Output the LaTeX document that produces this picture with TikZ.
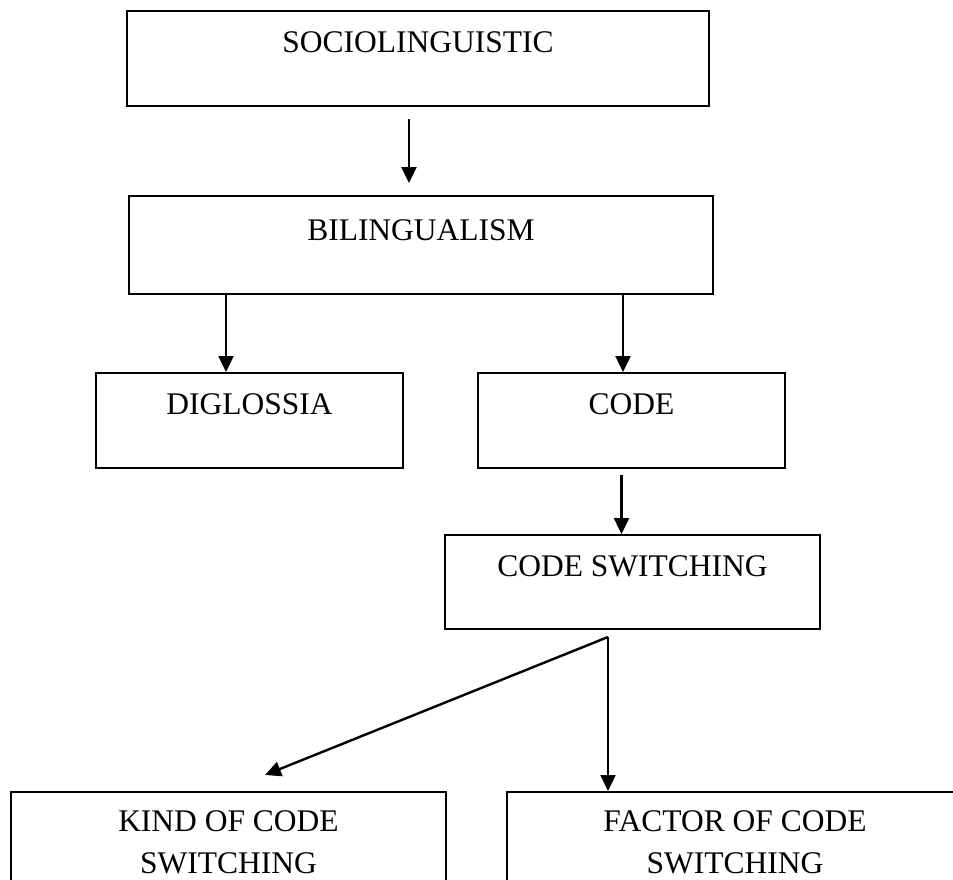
\documentclass[tikz,border=0pt]{standalone}
\usepackage{fontspec}
\setmainfont{Liberation Serif}
\usetikzlibrary{arrows.meta,positioning,calc}

\begin{document}
\begin{tikzpicture}[
  x=1pt,y=-1pt,
  >={Triangle[length=16pt,width=15pt]},
  box/.style={draw,line width=2pt,inner sep=0pt,anchor=north west},
  tag/.style={anchor=north,inner sep=0pt,align=center,
    font=\fontsize{31.5}{42}\selectfont},
  flow/.style={->,line width=2.4pt}
]
  \useasboundingbox (0,0) rectangle (953,880);
  \clip (0,0) rectangle (953,880);

  \node[box,minimum width=582,minimum height=95] (socio) at (126,10) {};
  \node[box,minimum width=584,minimum height=98] (biling) at (128,195) {};
  \node[box,minimum width=307,minimum height=95] (diglos) at (95,372) {};
  \node[box,minimum width=307,minimum height=95] (code) at (477,372) {};
  \node[box,minimum width=375,minimum height=94] (switch) at (444,534) {};
  \node[box,minimum width=435,minimum height=150] (kind) at (10,791) {};
  \node[box,minimum width=456,minimum height=150] (factor) at (506,791) {};

  \node[tag] (sociotxt) at ([yshift=-21pt]socio.north) {SOCIOLINGUISTIC};
  \node[tag] (bilingtxt) at ([yshift=-24pt]biling.north) {BILINGUALISM};
  \node[tag] (diglostxt) at ([yshift=-21pt]diglos.north) {DIGLOSSIA};
  \node[tag] (codetxt) at ([yshift=-21pt]code.north) {CODE};
  \node[tag] (switchtxt) at ([yshift=-21pt]switch.north) {CODE SWITCHING};
  \node[tag] (kindtxt) at ([yshift=-19pt]kind.north) {KIND OF CODE\\SWITCHING};
  \node[tag] (factortxt) at ([yshift=-19pt]factor.north) {FACTOR OF CODE\\SWITCHING};

  \coordinate (left) at ($(biling.south west)+(98,0)$);
  \coordinate (right) at ($(biling.south east)+(-91,0)$);
  \coordinate (split) at ($(switch.south)+(-24.5,7)$);
  \coordinate (kindtip) at ($(kind.north west)+(255,-16)$);

  \draw[flow] ($(socio.south)+(-9,12)$) -- ($(socio.south |- biling.north)+(-9,-12)$);
  \draw[flow] (left) -- (left |- diglos.north);
  \draw[flow] (right) -- (right |- code.north);
  \draw[flow] ($(code.south)+(-10,6)$) -- ($(code.south |- switch.north)+(-10,0)$);
  \draw[flow] (split) -- (split |- factor.north);
  \draw[flow] (split) -- (kindtip);
\end{tikzpicture}
\end{document}
